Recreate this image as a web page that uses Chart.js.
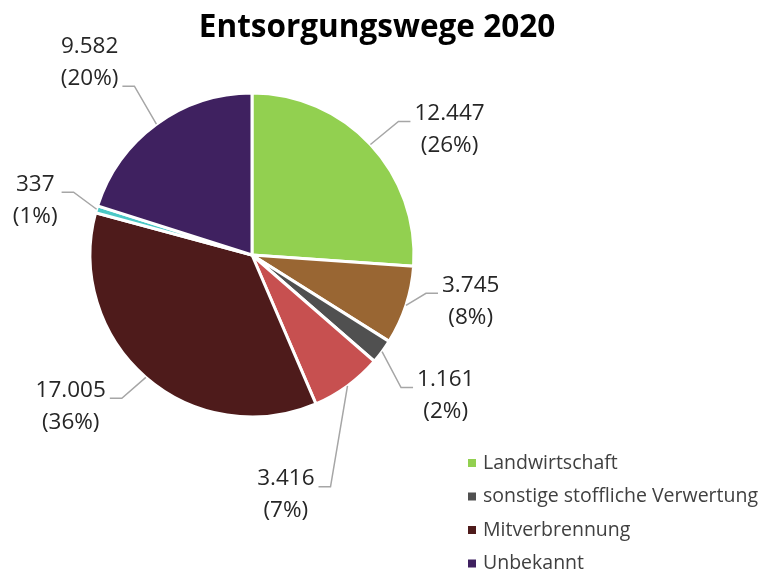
<!DOCTYPE html>
<html lang="de">
<head>
<meta charset="utf-8">
<title>Entsorgungswege 2020</title>
<script src="https://cdn.jsdelivr.net/npm/chart.js@4.4.1/dist/chart.umd.min.js"></script>
<style>
  html, body { margin: 0; padding: 0; background: #fff; }
  #wrap { position: relative; width: 763px; height: 573px; }
</style>
</head>
<body>
<div id="wrap"><canvas id="chart" width="763" height="573"></canvas></div>
<script>
const chartTitle = 'Entsorgungswege 2020';
const categories = [
  'Landwirtschaft',
  'Landschaftsbau',
  'sonstige stoffliche Verwertung',
  'Monoverbrennung',
  'Mitverbrennung',
  'sonstige thermische Entsorgung',
  'Unbekannt'
];
const values = [12447, 3745, 1161, 3416, 17005, 337, 9582];
const colors = ['#92d050', '#996633', '#505050', '#c75050', '#4e1b1b', '#4bc8c6', '#3f2160'];

// the original legend only lists every second entry
const legendShown = [0, 2, 4, 6];
// where each leader line bends, relative to the slice's outer edge
const labelBends = [[28, -23], [20, -12], [19, 36], [-17, 101], [-24, 21], [-23, -17], [-22, -38]];
// which text row the leader line points at
const labelRow = [0, 0, 0, 0, 0, 0, 1];

const fmt = n => String(n).replace(/\B(?=(\d{3})+(?!\d))/g, '.');

const pieExtras = {
  id: 'pieExtras',
  afterDraw(chart) {
    const ctx = chart.ctx;
    const meta = chart.getDatasetMeta(0);
    const total = values.reduce((a, b) => a + b, 0);
    ctx.save();

    // title
    ctx.font = 'bold 31.5px "Open Sans"';
    ctx.fillStyle = '#000';
    ctx.textAlign = 'center';
    ctx.textBaseline = 'alphabetic';
    ctx.fillText(chartTitle, 377, 37);

    // data labels with leader lines
    meta.data.forEach((arc, i) => {
      const { x, y, startAngle, endAngle, outerRadius } =
        arc.getProps(['x', 'y', 'startAngle', 'endAngle', 'outerRadius'], true);
      const mid = (startAngle + endAngle) / 2;
      const ax = x + Math.cos(mid) * outerRadius;
      const ay = y + Math.sin(mid) * outerRadius;
      const [dx, dy] = labelBends[i];
      const bx = ax + dx, by = ay + dy;
      const side = dx >= 0 ? 1 : -1;
      const ex = bx + side * 12;

      ctx.strokeStyle = '#a6a6a6';
      ctx.lineWidth = 1.5;
      ctx.beginPath();
      ctx.moveTo(ax, ay);
      ctx.lineTo(bx, by);
      ctx.lineTo(ex, by);
      ctx.stroke();

      const lines = [fmt(values[i]), '(' + Math.round(values[i] / total * 100) + '%)'];
      ctx.font = '22.5px "Open Sans"';
      const w = Math.max(...lines.map(t => ctx.measureText(t).width));
      const cx = ex + side * (4 + w / 2);
      const firstY = by - 8 - labelRow[i] * 32;
      ctx.fillStyle = '#262626';
      ctx.textAlign = 'center';
      ctx.textBaseline = 'middle';
      lines.forEach((t, k) => ctx.fillText(t, cx, firstY + k * 32));
    });

    // legend
    ctx.font = '19.5px "Open Sans"';
    ctx.textAlign = 'left';
    ctx.textBaseline = 'middle';
    legendShown.forEach((idx, k) => {
      const ly = 463 + k * 33.5;
      ctx.fillStyle = colors[idx];
      ctx.fillRect(468, ly - 4, 8, 8);
      ctx.fillStyle = '#404040';
      ctx.fillText(categories[idx], 483, ly);
    });

    ctx.restore();
  }
};

new Chart(document.getElementById('chart'), {
  type: 'pie',
  data: {
    labels: categories,
    datasets: [{
      data: values,
      backgroundColor: colors,
      borderColor: '#ffffff',
      borderWidth: 3,
      radius: 162
    }]
  },
  options: {
    responsive: false,
    animation: false,
    layout: { padding: { left: 0, right: 259, top: 80, bottom: 143 } },
    plugins: {
      legend: { display: false },
      tooltip: { enabled: false },
      title: { display: false }
    }
  },
  plugins: [pieExtras]
});
</script>
</body>
</html>
